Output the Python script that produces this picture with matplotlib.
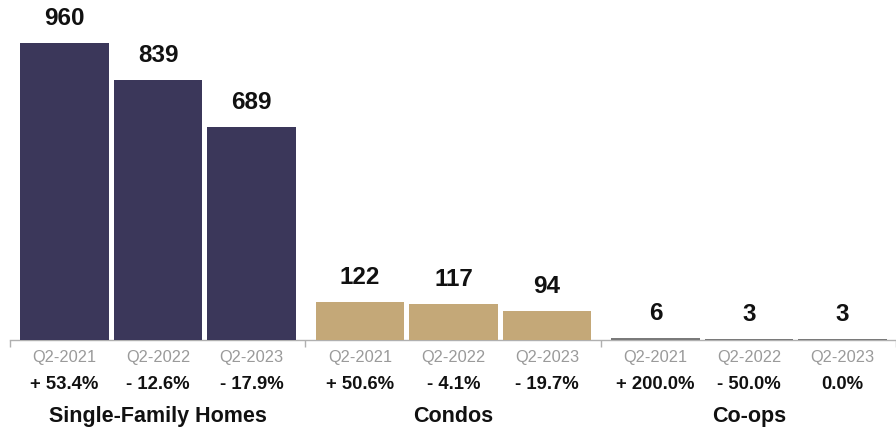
import matplotlib
matplotlib.use("Agg")
import matplotlib.pyplot as plt

plt.rcParams['font.family'] = ['Liberation Sans', 'DejaVu Sans']

groups = ["Single-Family Homes", "Condos", "Co-ops"]
periods = ["Q2-2021", "Q2-2022", "Q2-2023"]
sales = [
    [960, 839, 689],
    [122, 117, 94],
    [6, 3, 3],
]
changes = [
    ["+ 53.4%", "- 12.6%", "- 17.9%"],
    ["+ 50.6%", "- 4.1%", "- 19.7%"],
    ["+ 200.0%", "- 50.0%", "0.0%"],
]
colors = ["#3b375a", "#c4a878", "#7a7a7a"]

# layout in pixel-like x units
x0 = 9.5
group_w = 297
first_off = 55.3
pitch = 94
bar_w = 89

fig = plt.figure(figsize=(8.96, 4.31), dpi=100)
ax = fig.add_axes([x0 / 896, 90 / 431, 1 - x0 / 896, 341 / 431])
ax.set_xlim(x0, 896)
ax.set_ylim(0, 960 * 341 / 297)

for g, name in enumerate(groups):
    gx = x0 + g * group_w
    xs = [gx + first_off + j * pitch for j in range(3)]
    ax.bar(xs, sales[g], width=bar_w, color=colors[g], zorder=3)
    for j, x in enumerate(xs):
        ax.annotate(str(sales[g][j]), xy=(x, sales[g][j]), xytext=(0, 18.5),
                    textcoords="offset points", ha="center", va="center",
                    fontsize=17.5, fontweight="bold", color="#111111")
        ax.annotate(periods[j], xy=(x, 0), xycoords=("data", "axes fraction"),
                    xytext=(0, -11.8), textcoords="offset points",
                    ha="center", va="center", fontsize=11.8, color="#9a9a9a")
        ax.annotate(changes[g][j], xy=(x, 0), xycoords=("data", "axes fraction"),
                    xytext=(0, -31.5), textcoords="offset points",
                    ha="center", va="center", fontsize=13.3, fontweight="bold",
                    color="#111111")
    ax.annotate(name, xy=(xs[1], 0), xycoords=("data", "axes fraction"),
                xytext=(0, -54.3), textcoords="offset points",
                ha="center", va="center", fontsize=15.5, fontweight="bold",
                color="#111111")

for s in ["top", "left", "right"]:
    ax.spines[s].set_visible(False)
ax.spines["bottom"].set_color("#b0b0b0")
ax.spines["bottom"].set_linewidth(1)
ax.set_yticks([])
ax.set_xticks([x0 + g * group_w for g in range(4)])
ax.set_xticklabels([])
ax.tick_params(axis="x", length=5, width=1, color="#b0b0b0")

fig.savefig("out.png", dpi=100)
